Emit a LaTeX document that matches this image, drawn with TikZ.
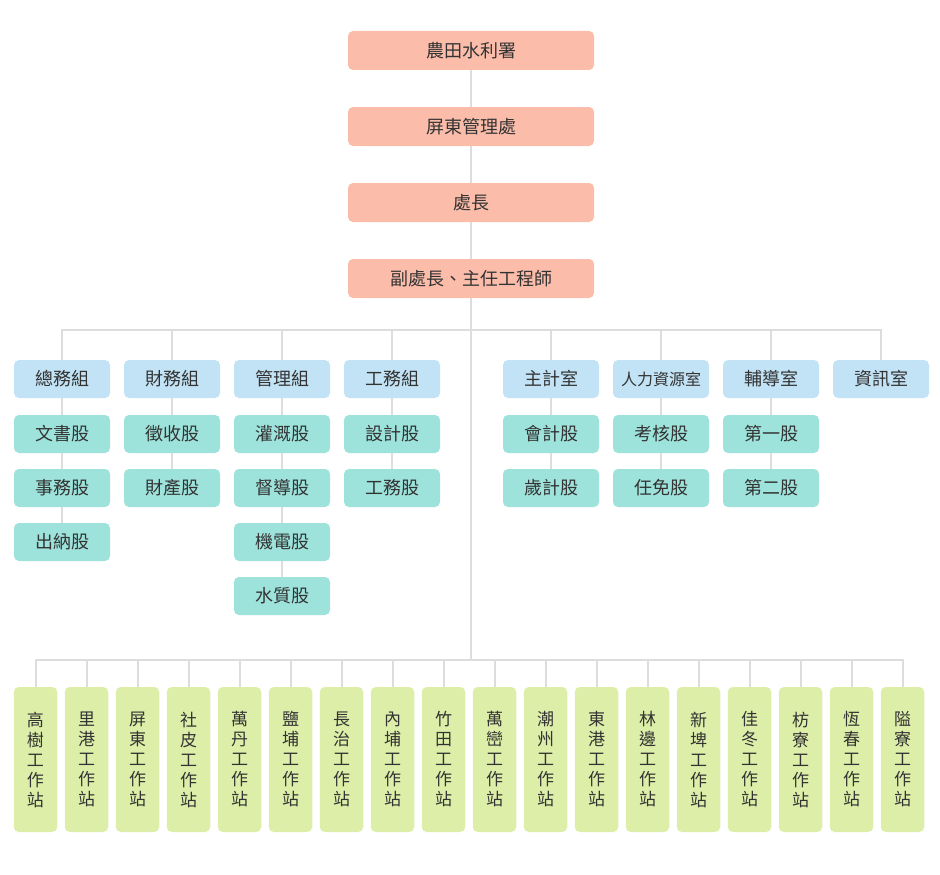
\documentclass[tikz,border=0pt]{standalone}
\usepackage{fontspec}
\setmainfont{Noto Sans CJK TC}
\definecolor{cTop}{RGB}{251,188,170}
\definecolor{cDept}{RGB}{194,227,245}
\definecolor{cSub}{RGB}{157,227,219}
\definecolor{cStn}{RGB}{221,238,169}
\definecolor{cLine}{RGB}{221,221,221}
\definecolor{txt}{RGB}{51,51,51}
\begin{document}
\begin{tikzpicture}[x=1pt,y=-1pt,
  box/.style={rounded corners=5pt, inner sep=0pt, text=txt, font=\fontsize{18}{20}\selectfont},
  topbox/.style={box, fill=cTop, minimum width=246pt, minimum height=39pt},
  deptbox/.style={box, fill=cDept, minimum width=96pt, minimum height=38pt},
  subbox/.style={box, fill=cSub, minimum width=96pt, minimum height=38pt},
  stnbox/.style={box, fill=cStn, minimum width=43.5pt, minimum height=145pt, align=center, font=\fontsize{17}{20}\selectfont},
  link/.style={draw=cLine, line width=2pt}]
\useasboundingbox (0,0) rectangle (940,875);
% top chain
\node[topbox] (t1) at (471,50.5) {農田水利署};
\node[topbox] (t2) at (471,126.5) {屏東管理處};
\node[topbox] (t3) at (471,202.5) {處長};
\node[topbox] (t4) at (471,278.5) {副處長、主任工程師};
\coordinate (b1) at (471,330);
\coordinate (b2) at (471,660);
\draw[link] (t1) -- (t2);
\draw[link] (t2) -- (t3);
\draw[link] (t3) -- (t4);
\draw[link] (t4) -- (b2);
% departments
\node[deptbox] (d1) at (62,379) {總務組};
\node[deptbox] (d2) at (172,379) {財務組};
\node[deptbox] (d3) at (282,379) {管理組};
\node[deptbox] (d4) at (392,379) {工務組};
\node[deptbox] (d5) at (551,379) {主計室};
\node[deptbox, font=\fontsize{16}{18}\selectfont] (d6) at (661,379) {人力資源室};
\node[deptbox] (d7) at (771,379) {輔導室};
\node[deptbox] (d8) at (881,379) {資訊室};
\foreach \d in {d1,d2,d3,d4,d5,d6,d7,d8}
  \draw[link] (\d.north) |- (b1);
% sub units
\node[subbox] (d1a) at (62,434) {文書股};
\node[subbox] (d1b) at (62,488) {事務股};
\node[subbox] (d1c) at (62,542) {出納股};
\node[subbox] (d2a) at (172,434) {徵收股};
\node[subbox] (d2b) at (172,488) {財產股};
\node[subbox] (d3a) at (282,434) {灌溉股};
\node[subbox] (d3b) at (282,488) {督導股};
\node[subbox] (d3c) at (282,542) {機電股};
\node[subbox] (d3d) at (282,596) {水質股};
\node[subbox] (d4a) at (392,434) {設計股};
\node[subbox] (d4b) at (392,488) {工務股};
\node[subbox] (d5a) at (551,434) {會計股};
\node[subbox] (d5b) at (551,488) {歲計股};
\node[subbox] (d6a) at (661,434) {考核股};
\node[subbox] (d6b) at (661,488) {任免股};
\node[subbox] (d7a) at (771,434) {第一股};
\node[subbox] (d7b) at (771,488) {第二股};
\foreach \a/\b in {d1/d1a,d1a/d1b,d1b/d1c,d2/d2a,d2a/d2b,d3/d3a,d3a/d3b,d3b/d3c,d3c/d3d,d4/d4a,d4a/d4b,d5/d5a,d5a/d5b,d6/d6a,d6a/d6b,d7/d7a,d7a/d7b}
  \draw[link] (\a) -- (\b);
% stations
\foreach \p/\q [count=\i from 0] in {高/樹,里/港,屏/東,社/皮,萬/丹,鹽/埔,長/治,內/埔,竹/田,萬/巒,潮/州,東/港,林/邊,新/埤,佳/冬,枋/寮,恆/春,隘/寮}{
  \node[stnbox] (s\i) at ({35.5+51*\i},759.5) {\p\\\q\\工\\作\\站};
  \draw[link] (s\i.north) |- (b2);
}
\end{tikzpicture}
\end{document}
